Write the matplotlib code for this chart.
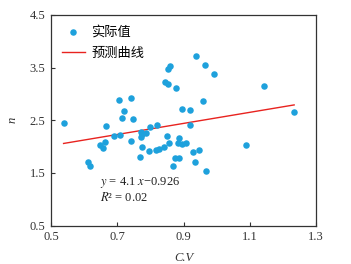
import numpy as np
import matplotlib
matplotlib.use('Agg')
import matplotlib.pyplot as plt

plt.rcParams['font.family'] = ['Liberation Serif', 'Noto Sans CJK SC']
plt.rcParams['mathtext.fontset'] = 'stix'

# measured points (C.V, n)
cv = [0.538, 0.611, 0.619, 0.649, 0.656, 0.663, 0.666, 0.691, 0.708, 0.706,
      0.713, 0.721, 0.741, 0.743, 0.749, 0.768, 0.772, 0.774, 0.787, 0.772,
      0.774, 0.795, 0.799, 0.817, 0.819, 0.827, 0.840, 0.845, 0.851, 0.854,
      0.854, 0.859, 0.857, 0.869, 0.874, 0.877, 0.885, 0.885, 0.882, 0.894,
      0.896, 0.909, 0.920, 0.921, 0.928, 0.936, 0.937, 0.946, 0.958, 0.965,
      0.969, 0.993, 1.090, 1.143, 1.234]
n = [2.45, 1.71, 1.64, 2.04, 1.98, 2.09, 2.39, 2.21, 2.22, 2.88,
     2.54, 2.67, 2.11, 2.92, 2.52, 1.80, 2.28, 2.23, 2.25, 2.18,
     2.00, 1.92, 2.38, 1.93, 2.41, 1.95, 2.00, 3.22, 2.20, 3.18,
     3.47, 3.53, 2.07, 1.63, 1.78, 3.12, 1.78, 2.16, 2.07, 2.05,
     2.71, 2.06, 2.70, 2.41, 1.90, 1.71, 3.72, 1.94, 2.86, 3.55,
     1.53, 3.38, 2.03, 3.15, 2.65]

# fitted line as drawn
slope = 1.05
intercept = 1.495

xticks = [0.5, 0.7, 0.9, 1.1, 1.3]
yticks = [0.5, 1.5, 2.5, 3.5, 4.5]

fig = plt.figure(figsize=(3.51, 2.64), dpi=100)
ax = fig.add_axes([0.1453, 0.145, 0.755, 0.799])

ax.scatter(cv, n, s=22, color='#1ea1dc', linewidths=0, label='实际值', zorder=3)
xl = np.array([min(cv), max(cv)])
ax.plot(xl, slope * xl + intercept, color='#e8231f', lw=1.0, label='预测曲线', zorder=2)

ax.set_xlim(0.5, 1.3)
ax.set_ylim(0.5, 4.5)
ax.set_xticks(xticks)
ax.set_yticks(yticks)
ax.set_xticklabels([str(t) for t in xticks])
ax.set_yticklabels([str(t) for t in yticks])
ax.tick_params(direction='in', length=3, width=0.8, labelsize=9, colors='#333333',
               top=False, right=False, pad=4)
for sp in ax.spines.values():
    sp.set_color('#333333')
    sp.set_linewidth(0.9)

ax.set_xlabel('C.V', fontsize=9, style='italic', labelpad=6, color='#333333')
ax.set_ylabel('n', fontsize=9, style='italic', rotation=90, labelpad=8, color='#333333')

ax.text(0.185, 0.205, r'$y$ = 4.1 $x$−0.926', transform=ax.transAxes, fontsize=9,
        va='center', color='#222222')
ax.text(0.185, 0.135, r'$R$² = 0.02', transform=ax.transAxes, fontsize=9,
        va='center', color='#222222')

leg = ax.legend(loc='upper left', frameon=False, fontsize=9.5, handlelength=1.75,
                borderaxespad=0.4, borderpad=0.4, labelspacing=0.7, handletextpad=0.5,
                bbox_to_anchor=(0.0, 1.0))

fig.savefig('out.png', dpi=100)
